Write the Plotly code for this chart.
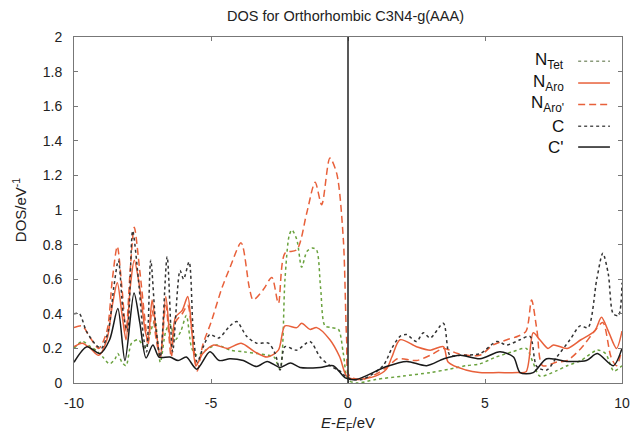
import plotly.graph_objects as go

# ---------------- data ----------------
ntet_x = [-10, -9.7, -9.4, -9.2, -8.95, -8.7, -8.5, -8.4, -8.25, -8.1, -7.9, -7.65, -7.4, -7.2, -7.05,
          -6.85, -6.65, -6.5, -6.3, -6.1, -5.9, -5.7, -5.5, -5.2, -4.8, -4.3, -3.8, -3.3, -2.9, -2.7,
          -2.48, -2.3, -2.15, -2.05, -1.87, -1.69, -1.5, -1.3, -1.15, -1.0, -0.84, -0.6, -0.35, -0.17,
          0, 0.3, 1, 2, 3, 3.7, 4.3, 4.8, 5.4, 6.0, 6.5, 6.75, 7.0, 7.6, 8.0, 8.5, 9.1, 9.4, 9.7, 10]
ntet_y = [0.2, 0.24, 0.21, 0.19, 0.15, 0.11, 0.14, 0.17, 0.12, 0.1, 0.23, 0.25, 0.2, 0.3, 0.36,
          0.12, 0.3, 0.34, 0.25, 0.3, 0.39, 0.2, 0.16, 0.19, 0.22, 0.19, 0.18, 0.17, 0.16, 0.15,
          0.08, 0.6, 0.85, 0.885, 0.83, 0.67, 0.76, 0.78, 0.77, 0.55, 0.33, 0.32, 0.31, 0.17,
          0.02, 0.0, 0.02, 0.04, 0.06, 0.08, 0.1, 0.11, 0.15, 0.18, 0.2, 0.12, 0.04, 0.07, 0.1, 0.13, 0.19, 0.17, 0.07, 0.1]

naro_x = [-10, -9.7, -9.4, -9.1, -8.8, -8.6, -8.42, -8.25, -8.1, -7.95, -7.8, -7.6, -7.4, -7.3, -7.15,
          -7.0, -6.85, -6.65, -6.45, -6.3, -6.05, -5.85, -5.7, -5.55, -5.3, -4.9, -4.4, -3.9, -3.4,
          -2.95, -2.54, -2.3, -1.87, -1.69, -1.39, -1.14, -0.66, -0.3, -0.05, 0.3, 1.0, 1.4, 1.6, 1.9,
          2.5, 3.0, 3.48, 3.66, 4.3, 4.8, 5.5, 6.2, 6.5, 6.76, 7.0, 7.3, 7.5, 8.0, 8.5, 9.0, 9.25, 9.5, 9.8, 10]
naro_y = [0.21, 0.23, 0.2, 0.16, 0.25, 0.45, 0.58, 0.4, 0.25, 0.55, 0.71, 0.55, 0.3, 0.25, 0.48,
          0.3, 0.15, 0.5, 0.2, 0.38, 0.42, 0.5, 0.3, 0.1, 0.17, 0.22, 0.2, 0.23, 0.18,
          0.15, 0.19, 0.33, 0.32, 0.345, 0.31, 0.32, 0.25, 0.15, 0.04, 0.02, 0.04, 0.08, 0.15, 0.25,
          0.21, 0.19, 0.21, 0.12, 0.075, 0.06, 0.06, 0.06, 0.065, 0.29, 0.25, 0.2, 0.22, 0.2, 0.25, 0.3, 0.38, 0.3, 0.2, 0.3]

naro2_x = [-10, -9.7, -9.4, -9.1, -8.8, -8.6, -8.42, -8.25, -8.1, -7.95, -7.8, -7.6, -7.4, -7.3, -7.15,
           -7.0, -6.85, -6.65, -6.45, -6.3, -6.05, -5.85, -5.7, -5.5, -5.3, -5.0, -4.6, -4.3, -3.9,
           -3.6, -3.46, -3.09, -2.78, -2.54, -2.3, -1.87, -1.51, -1.2, -0.96, -0.66, -0.41, -0.17,
           -0.05, 0.05, 0.5, 1.0, 1.5, 1.8, 2.5, 3.0, 3.5, 4.0, 4.8, 5.3, 5.8, 6.2, 6.5, 6.7, 6.9,
           7.1, 7.6, 8.0, 8.5, 9.0, 9.3, 9.6, 9.8, 10]
naro2_y = [0.32, 0.33, 0.26, 0.2, 0.3, 0.6, 0.79, 0.55, 0.3, 0.65, 0.9, 0.65, 0.35, 0.22, 0.42,
           0.25, 0.15, 0.45, 0.15, 0.35, 0.4, 0.45, 0.3, 0.07, 0.22, 0.35, 0.55, 0.67, 0.81,
           0.55, 0.48, 0.54, 0.61, 0.46, 0.75, 0.77, 0.98, 1.16, 1.03, 1.3, 1.21, 0.83,
           0.25, 0.04, 0.02, 0.05, 0.1, 0.14, 0.13, 0.16, 0.2, 0.17, 0.16, 0.22, 0.25, 0.27, 0.3, 0.48, 0.3,
           0.1, 0.12, 0.13, 0.2, 0.3, 0.35, 0.15, 0.1, 0.2]

c_x = [-10, -9.8, -9.55, -9.2, -9.0, -8.75, -8.55, -8.38, -8.2, -8.05, -7.86, -7.65, -7.45, -7.35, -7.2,
       -7.0, -6.85, -6.6, -6.4, -6.13, -6.0, -5.8, -5.65, -5.5, -5.28, -5.04, -4.72, -4.31, -4.06, -3.7,
       -3.33, -2.9, -2.66, -2.48, -2.3, -1.87, -1.39, -1.02, -0.66, -0.3, -0.02, 0.5, 1.28, 1.6, 1.9,
       2.14, 2.5, 2.75, 3.0, 3.48, 3.72, 4.09, 4.82, 5.43, 5.79, 6.28, 6.64, 6.89, 7.25, 7.62, 8.1,
       8.47, 8.76, 9.08, 9.3, 9.5, 9.68, 9.87, 10]
c_y = [0.4, 0.4, 0.3, 0.22, 0.2, 0.3, 0.55, 0.71, 0.4, 0.3, 0.88, 0.6, 0.25, 0.18, 0.71,
       0.3, 0.15, 0.73, 0.18, 0.65, 0.6, 0.7, 0.3, 0.12, 0.21, 0.28, 0.26, 0.33, 0.355, 0.27,
       0.23, 0.23, 0.17, 0.075, 0.21, 0.19, 0.24, 0.15, 0.1, 0.07, 0.03, 0.02, 0.1, 0.2, 0.27,
       0.28, 0.24, 0.29, 0.26, 0.345, 0.16, 0.16, 0.17, 0.24, 0.22, 0.25, 0.27, 0.095, 0.075, 0.15, 0.25,
       0.33, 0.32, 0.6, 0.75, 0.63, 0.4, 0.39, 0.58]

c2_x = [-10, -9.53, -9.05, -8.7, -8.4, -8.14, -7.81, -7.6, -7.37, -7.12, -6.9, -6.5, -6.2, -5.9, -5.52,
        -5.04, -4.7, -4.31, -3.82, -3.33, -2.95, -2.48, -2.1, -1.75, -1.02, -0.54, -0.1, 0.3, 1.4, 2.14,
        2.87, 3.5, 4.1, 4.82, 5.55, 6.04, 6.28, 6.76, 7.25, 7.98, 8.7, 9.1, 9.68, 10]
c2_y = [0.12, 0.21, 0.17, 0.25, 0.43, 0.13, 0.52, 0.35, 0.145, 0.22, 0.15, 0.15, 0.13, 0.15, 0.08,
        0.18, 0.13, 0.14, 0.13, 0.095, 0.125, 0.09, 0.115, 0.09, 0.09, 0.1, 0.03, 0.02, 0.095, 0.125,
        0.1, 0.14, 0.16, 0.14, 0.18, 0.15, 0.06, 0.06, 0.14, 0.125, 0.13, 0.17, 0.1, 0.2]

y_ticks = [0, 0.2, 0.4, 0.6, 0.8, 1, 1.2, 1.4, 1.6, 1.8, 2]
y_tick_labels = ["0", "0.2", "0.4", "0.6", "0.8", "1", "1.2", "1.4", "1.6", "1.8", "2"]
x_ticks = [-10, -5, 0, 5, 10]
x_tick_labels = ["-10", "-5", "0", "5", "10"]

# ---------------- styles ----------------
GREEN = "#6aa23e"
ORANGE = "#e8603a"
DARK = "#333333"
BLACK = "#1a1a1a"

series = [
    ("N<sub>Tet</sub>", ntet_x, ntet_y, GREEN, "dot"),
    ("N<sub>Aro</sub>", naro_x, naro_y, ORANGE, "solid"),
    ("N<sub>Aro'</sub>", naro2_x, naro2_y, ORANGE, "7px,4px"),
    ("C", c_x, c_y, DARK, "dot"),
    ("C'", c2_x, c2_y, BLACK, "solid"),
]

fig = go.Figure()
for name, xs, ys, col, dash in series:
    fig.add_trace(go.Scatter(x=xs, y=ys, mode="lines", name=name,
                             line=dict(color=col, width=1.5, dash=dash, shape="spline", smoothing=0.8),
                             showlegend=False))

# vertical Fermi-level line
fig.add_shape(type="line", xref="x", yref="y", x0=0, x1=0, y0=0, y1=2,
              line=dict(color="#222222", width=1.5))

# custom legend: text on the left, line sample on the right
leg_y = [0.93, 0.867, 0.805, 0.742, 0.682]
leg_samples = [("#8a9a7a", "dot"), (ORANGE, "solid"), (ORANGE, "7px,4px"), ("#555555", "dot"), (BLACK, "solid")]
for (name, *_), ly, (col, dash) in zip(series, leg_y, leg_samples):
    fig.add_annotation(x=0.897, y=ly, xref="paper", yref="paper", text=name, showarrow=False,
                       xanchor="right", yanchor="middle", font=dict(size=17, color="#111"))
    fig.add_shape(type="line", xref="paper", yref="paper", x0=0.92, x1=0.978, y0=ly, y1=ly,
                  line=dict(color=col, width=1.5, dash=dash))

axis_common = dict(showline=True, linecolor="#777777", linewidth=1, mirror="allticks",
                   ticks="inside", ticklen=4, tickcolor="#777777", showgrid=False, zeroline=False,
                   automargin=False, tickfont=dict(size=14, color="#222"))

fig.update_xaxes(range=[-10, 10], tickvals=x_ticks, ticktext=x_tick_labels, ticklabelstandoff=7,
                 title=dict(text="<i>E</i>-<i>E</i><sub>F</sub>/eV", font=dict(size=15, color="#222"), standoff=12),
                 **axis_common)
fig.update_yaxes(range=[0, 2], tickvals=y_ticks, ticktext=y_tick_labels, ticklabelstandoff=8,
                 title=dict(text="DOS/eV<sup>-1</sup>", font=dict(size=15, color="#222"), standoff=12),
                 **axis_common)

fig.update_layout(
    width=634, height=433,
    margin=dict(l=74, r=12, t=37, b=50, autoexpand=False),
    paper_bgcolor="white", plot_bgcolor="white",
    font=dict(family="Liberation Sans, Arial, sans-serif", color="#222"),
    title=dict(text="DOS for Orthorhombic C3N4-g(AAA)", x=0.545, xanchor="center", y=0.963, yanchor="middle",
               font=dict(size=14.5, color="#222")),
)

fig.write_html("out.html", config={"displayModeBar": False},
               post_script="document.body.style.margin='0';document.body.style.overflow='hidden';")
